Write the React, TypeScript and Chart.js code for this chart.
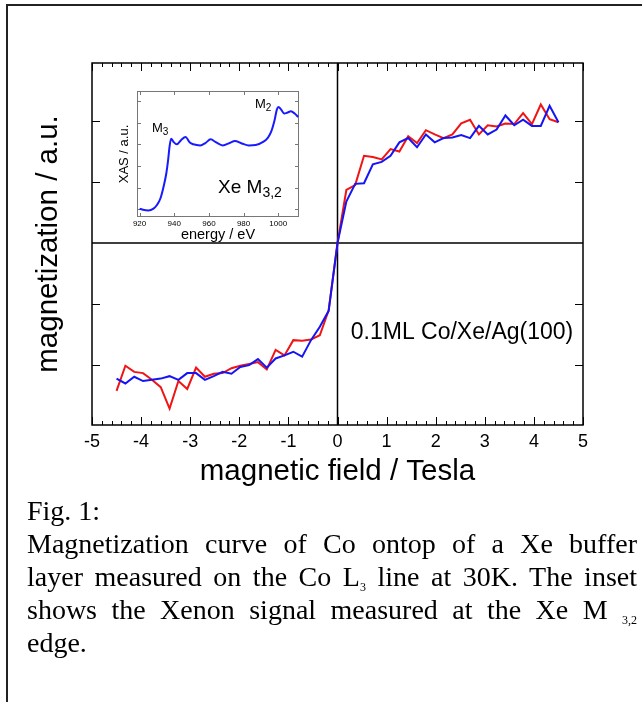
import React, { useEffect, useRef } from 'react';
import { Chart, registerables } from 'chart.js';

Chart.register(...registerables);

// ---------- main magnetization curve ----------
const FIELD_T = [
  -4.5, -4.32, -4.14, -3.96, -3.78, -3.6, -3.42, -3.24, -3.06, -2.88, -2.7, -2.52, -2.34,
  -2.16, -1.98, -1.8, -1.62, -1.44, -1.26, -1.08, -0.9, -0.72, -0.54, -0.36, -0.18, 0,
  0.18, 0.36, 0.54, 0.72, 0.9, 1.08, 1.26, 1.44, 1.62, 1.8, 1.98, 2.16, 2.34, 2.52, 2.7,
  2.88, 3.06, 3.24, 3.42, 3.6, 3.78, 3.96, 4.14, 4.32, 4.5,
];
const MAG_RED = [
  -2.42, -2.01, -2.11, -2.13, -2.24, -2.36, -2.71, -2.26, -2.39, -2.04, -2.19, -2.14, -2.13,
  -2.05, -2.01, -1.98, -1.95, -2.07, -1.75, -1.84, -1.59, -1.6, -1.58, -1.51, -1.1, 0,
  0.87, 0.95, 1.43, 1.41, 1.37, 1.54, 1.5, 1.75, 1.64, 1.85, 1.78, 1.72, 1.78, 1.96, 2.02,
  1.78, 1.93, 1.91, 1.96, 1.95, 2.13, 1.95, 2.27, 2.03, 1.98,
];
const MAG_BLUE = [
  -2.22, -2.3, -2.19, -2.26, -2.24, -2.22, -2.18, -2.24, -2.13, -2.13, -2.24, -2.18, -2.11,
  -2.14, -2.03, -2.0, -1.9, -2.04, -1.89, -1.84, -1.78, -1.86, -1.59, -1.37, -1.11, 0,
  0.68, 0.97, 0.98, 1.29, 1.33, 1.43, 1.65, 1.72, 1.57, 1.78, 1.65, 1.72, 1.73, 1.77, 1.72,
  1.92, 1.78, 1.86, 2.09, 1.93, 2.02, 1.92, 1.92, 2.25, 1.98,
];
const FIELD_TICKS = [-5, -4, -3, -2, -1, 0, 1, 2, 3, 4, 5];
const MAG_TICKS = [-2, -1, 1, 2];

// ---------- inset XAS spectrum ----------
const XAS_ENERGY = [
  920, 922, 925, 928, 930, 932, 934, 935.5, 936.5, 937.3, 938.2, 939.5, 941.5, 944, 946.5,
  949, 951, 955, 958, 961, 964, 968, 972, 975, 979, 983, 987, 991, 994, 996, 998, 999.2,
  1000.2, 1001.5, 1003.5, 1005.5, 1007.3, 1009.5, 1011.5,
];
const XAS_SIGNAL = [
  0.03, -0.02, -0.05, 0.03, 0.2, 0.5, 1.1, 1.7, 2.3, 2.9, 3.26, 3.12, 3.0, 3.2, 3.34,
  3.08, 3.0, 2.95, 3.06, 3.23, 3.1, 2.95, 3.06, 3.15, 3.04, 2.95, 2.97, 3.1, 3.3, 3.6,
  4.15, 4.6, 4.72, 4.62, 4.42, 4.47, 4.52, 4.42, 4.26,
];
const ENERGY_TICKS = [920, 940, 960, 980, 1000];
const XAS_TICKS = [0, 1, 2, 3, 4, 5];

const SANS = '"Liberation Sans", Arial, Helvetica, sans-serif';
const SERIF = '"Liberation Serif", "Times New Roman", Times, serif';

const mainDecor = {
  id: 'mainDecor',
  beforeDatasetsDraw(chart: any) {
    const { ctx, chartArea: a, scales } = chart;
    const x = scales.x;
    const y = scales.y;
    ctx.save();
    ctx.strokeStyle = '#000';
    ctx.lineWidth = 1.5;
    const x0 = x.getPixelForValue(0);
    const y0 = y.getPixelForValue(0);
    ctx.beginPath();
    ctx.moveTo(a.left, y0);
    ctx.lineTo(a.right, y0);
    ctx.moveTo(x0, a.top);
    ctx.lineTo(x0, a.bottom);
    ctx.stroke();

    ctx.lineWidth = 1;
    ctx.beginPath();
    for (let i = -25; i <= 25; i++) {
      const v = i / 5;
      const major = i % 5 === 0;
      const len = major ? 8 : 4;
      const px = Math.round(x.getPixelForValue(v)) + 0.5;
      ctx.moveTo(px, a.bottom);
      ctx.lineTo(px, a.bottom - len);
      ctx.moveTo(px, a.top);
      ctx.lineTo(px, a.top + len);
    }
    for (const v of MAG_TICKS) {
      const py = Math.round(y.getPixelForValue(v)) + 0.5;
      ctx.moveTo(a.left, py);
      ctx.lineTo(a.left + 8, py);
      ctx.moveTo(a.right, py);
      ctx.lineTo(a.right - 8, py);
    }
    ctx.stroke();

    ctx.lineWidth = 1.5;
    ctx.strokeRect(a.left, a.top, a.right - a.left, a.bottom - a.top);
    ctx.restore();
  },
  afterDatasetsDraw(chart: any) {
    const { ctx, scales } = chart;
    ctx.save();
    ctx.fillStyle = '#000';
    ctx.font = `23px ${SANS}`;
    ctx.textAlign = 'left';
    ctx.textBaseline = 'middle';
    ctx.fillText('0.1ML Co/Xe/Ag(100)', scales.x.getPixelForValue(0.27), scales.y.getPixelForValue(-1.46));
    ctx.restore();
  },
};

const insetDecor = {
  id: 'insetDecor',
  beforeDatasetsDraw(chart: any) {
    const { ctx, chartArea: a, scales } = chart;
    ctx.save();
    ctx.fillStyle = '#fff';
    ctx.fillRect(a.left, a.top, a.right - a.left, a.bottom - a.top);
    ctx.strokeStyle = '#777';
    ctx.lineWidth = 1;
    ctx.beginPath();
    for (const v of ENERGY_TICKS) {
      const px = Math.round(scales.x.getPixelForValue(v)) + 0.5;
      ctx.moveTo(px, a.bottom);
      ctx.lineTo(px, a.bottom - 4);
      ctx.moveTo(px, a.top);
      ctx.lineTo(px, a.top + 4);
    }
    for (const v of XAS_TICKS) {
      const py = Math.round(scales.y.getPixelForValue(v)) + 0.5;
      ctx.moveTo(a.left, py);
      ctx.lineTo(a.left + 4, py);
      ctx.moveTo(a.right, py);
      ctx.lineTo(a.right - 4, py);
    }
    ctx.stroke();
    ctx.strokeRect(a.left + 0.5, a.top + 0.5, a.right - a.left - 1, a.bottom - a.top - 1);
    ctx.restore();
  },
  afterDatasetsDraw(chart: any) {
    const { ctx, scales } = chart;
    const x = scales.x;
    const y = scales.y;
    ctx.save();
    ctx.fillStyle = '#000';
    ctx.textAlign = 'left';
    ctx.textBaseline = 'alphabetic';
    const label = (main: string, sub: string, ex: number, ev: number, size: number, subSize: number, drop: number) => {
      const px = x.getPixelForValue(ex);
      const py = y.getPixelForValue(ev);
      ctx.font = `${size}px ${SANS}`;
      ctx.fillText(main, px, py);
      const w = ctx.measureText(main).width;
      ctx.font = `${subSize}px ${SANS}`;
      ctx.fillText(sub, px + w, py + drop);
    };
    label('M', '3', 927.1, 3.57, 13, 10, 3);
    label('M', '2', 986.6, 4.68, 13, 10, 3);
    label('Xe M', '3,2', 965.3, 0.77, 19, 14, 4);
    ctx.restore();
  },
};

const SUB = { fontSize: 12, lineHeight: 0, verticalAlign: '-5px' } as const;
const LINE = { textAlign: 'justify', textAlignLast: 'justify', whiteSpace: 'nowrap' } as any;

export default function App() {
  const mainRef = useRef<HTMLCanvasElement | null>(null);
  const insetRef = useRef<HTMLCanvasElement | null>(null);

  useEffect(() => {
    const main = new Chart(mainRef.current as HTMLCanvasElement, {
      type: 'line',
      data: {
        datasets: [
          {
            label: 'blue',
            data: FIELD_T.map((f, i) => ({ x: f, y: MAG_BLUE[i] })),
            borderColor: '#1414f5',
            borderWidth: 2,
            pointRadius: 0,
            tension: 0,
            order: 0,
          },
          {
            label: 'red',
            data: FIELD_T.map((f, i) => ({ x: f, y: MAG_RED[i] })),
            borderColor: '#f01414',
            borderWidth: 2,
            pointRadius: 0,
            tension: 0,
            order: 1,
          },
        ],
      },
      options: {
        animation: false,
        responsive: false,
        events: [],
        layout: { padding: { left: 31, right: 59, top: 63, bottom: 0 } },
        plugins: { legend: { display: false }, tooltip: { enabled: false } },
        scales: {
          x: {
            type: 'linear',
            min: -5,
            max: 5,
            afterBuildTicks: (s: any) => {
              s.ticks = FIELD_TICKS.map((v) => ({ value: v }));
            },
            afterFit: (s: any) => {
              s.height = 75;
            },
            grid: { display: false, drawTicks: false, tickLength: 0 },
            border: { display: false },
            ticks: { color: '#000', font: { family: SANS, size: 18 }, padding: 6, maxRotation: 0 },
            title: {
              display: true,
              text: 'magnetic field / Tesla',
              color: '#000',
              font: { family: SANS, size: 29.5 },
              padding: { top: 0, bottom: 10 },
            },
          },
          y: {
            type: 'linear',
            min: -2.98,
            max: 2.95,
            afterFit: (s: any) => {
              s.width = 61;
            },
            grid: { display: false, drawTicks: false, tickLength: 0 },
            border: { display: false },
            ticks: { display: false },
            title: {
              display: true,
              text: 'magnetization / a.u.',
              color: '#000',
              font: { family: SANS, size: 29.5 },
              padding: { top: 0, bottom: 0 },
            },
          },
        },
      },
      plugins: [mainDecor],
    } as any);

    const inset = new Chart(insetRef.current as HTMLCanvasElement, {
      type: 'line',
      data: {
        datasets: [
          {
            label: 'XAS',
            data: XAS_ENERGY.map((e, i) => ({ x: e, y: XAS_SIGNAL[i] })),
            borderColor: '#1a1aff',
            borderWidth: 2,
            pointRadius: 0,
            tension: 0.4,
            cubicInterpolationMode: 'monotone',
          },
        ],
      },
      options: {
        animation: false,
        responsive: false,
        events: [],
        layout: { padding: { left: 17, right: 11, top: 11, bottom: 0 } },
        plugins: { legend: { display: false }, tooltip: { enabled: false } },
        scales: {
          x: {
            type: 'linear',
            min: 918.5,
            max: 1012,
            afterBuildTicks: (s: any) => {
              s.ticks = ENERGY_TICKS.map((v) => ({ value: v }));
            },
            afterFit: (s: any) => {
              s.height = 33;
            },
            grid: { display: false, drawTicks: false, tickLength: 0 },
            border: { display: false },
            ticks: {
              color: '#000',
              font: { family: SANS, size: 8 },
              padding: 2,
              maxRotation: 0,
              callback: (v: any) => String(v),
            },
            title: {
              display: true,
              text: 'energy / eV',
              color: '#000',
              font: { family: SANS, size: 14.5 },
              padding: { top: 0, bottom: 6.3 },
            },
          },
          y: {
            type: 'linear',
            min: -0.354,
            max: 5.46,
            afterFit: (s: any) => {
              s.width = 20;
            },
            grid: { display: false, drawTicks: false, tickLength: 0 },
            border: { display: false },
            ticks: { display: false },
            title: {
              display: true,
              text: 'XAS / a.u.',
              color: '#000',
              font: { family: SANS, size: 13 },
              padding: { top: 0, bottom: 0 },
            },
          },
        },
      },
      plugins: [insetDecor],
    } as any);

    return () => {
      main.destroy();
      inset.destroy();
    };
  }, []);

  return (
    <div
      style={{
        position: 'absolute',
        left: 0,
        top: 0,
        width: 642,
        height: 702,
        overflow: 'hidden',
        background: '#fff',
      }}
    >
      <div
        style={{
          position: 'absolute',
          left: 6,
          top: 4,
          width: 720,
          height: 760,
          border: '2px solid #222',
          boxSizing: 'border-box',
        }}
      />
      <canvas
        ref={mainRef}
        width={642}
        height={500}
        style={{ position: 'absolute', left: 0, top: 0, width: 642, height: 500 }}
      />
      <canvas
        ref={insetRef}
        width={210}
        height={170}
        style={{ position: 'absolute', left: 100, top: 80, width: 210, height: 170 }}
      />
      <div
        style={{
          position: 'absolute',
          left: 27,
          top: 494,
          width: 610,
          fontFamily: SERIF,
          fontSize: 28,
          lineHeight: '33px',
          color: '#000',
        }}
      >
        <div>Fig. 1:</div>
        <div style={LINE}>Magnetization curve of Co ontop of a Xe buffer</div>
        <div style={LINE}>
          layer measured on the Co L<sub style={SUB}>3</sub> line at 30K. The inset
        </div>
        <div style={LINE}>
          shows the Xenon signal measured at the Xe M <sub style={SUB}>3,2</sub>
        </div>
        <div>edge.</div>
      </div>
    </div>
  );
}
